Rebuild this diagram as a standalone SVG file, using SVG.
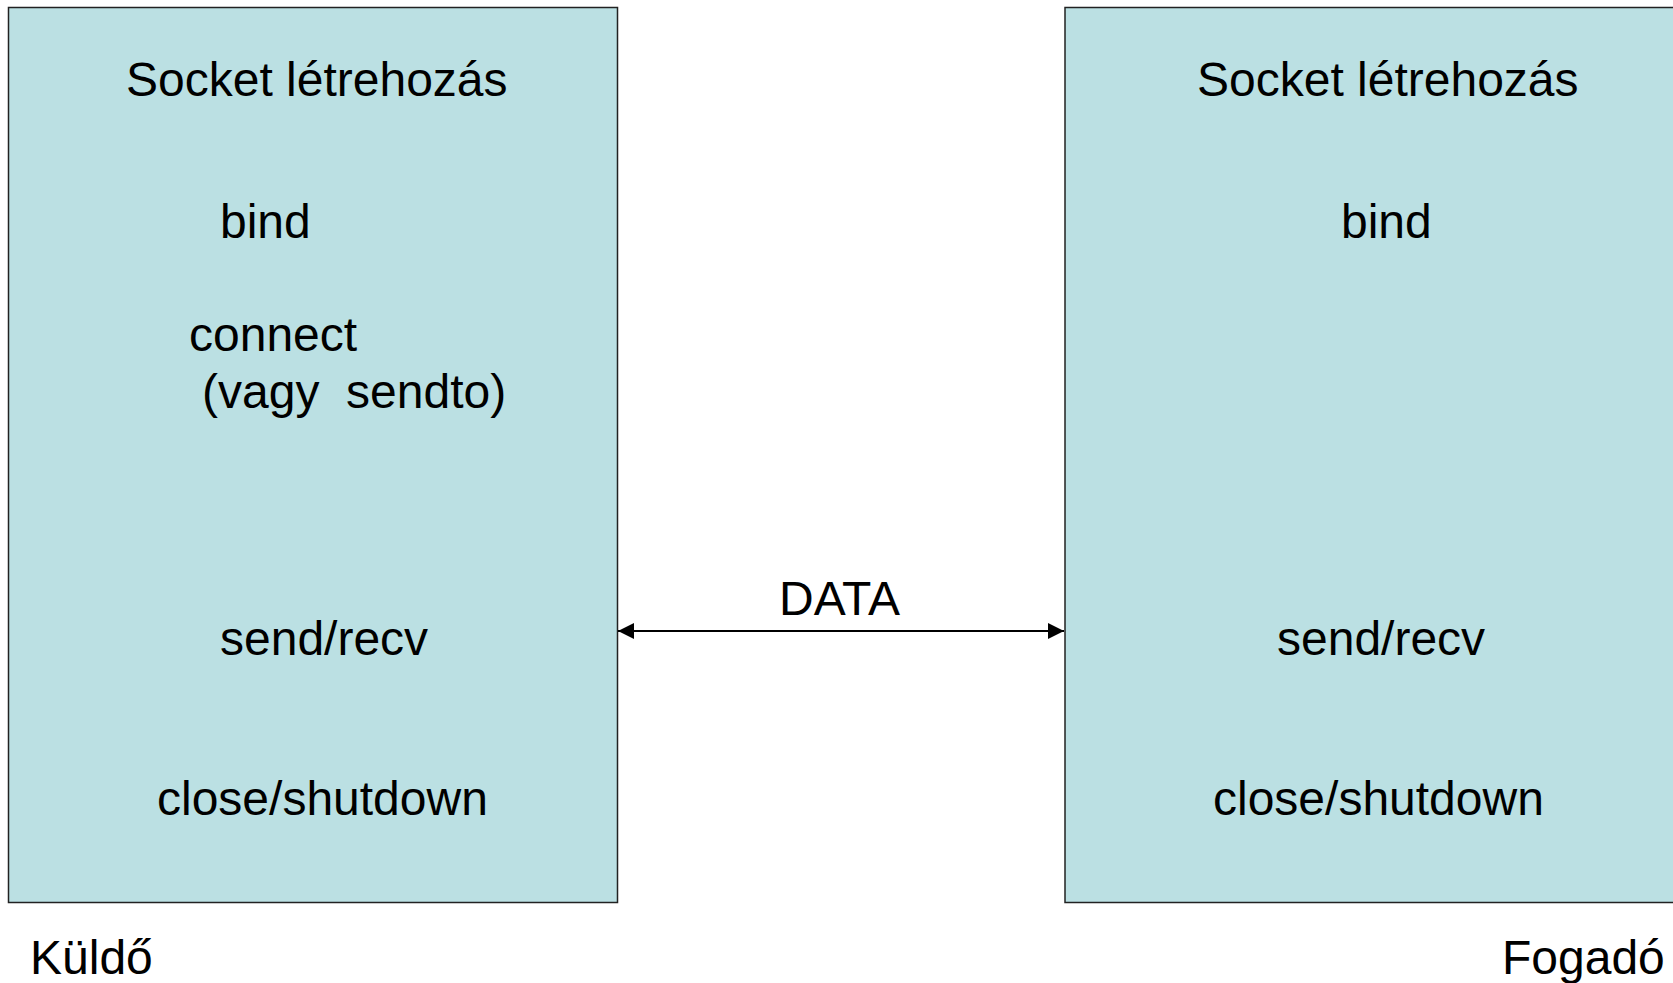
<svg xmlns="http://www.w3.org/2000/svg" width="1673" height="983" viewBox="0 0 1673 983">
  <style>
    .box { fill: #bbe0e3; stroke: #222; stroke-width: 1.5; }
    .lbl { font-family: "Liberation Sans", Arial, sans-serif; font-size: 48px; fill: #000; white-space: pre; }
    .conn { stroke: #000; stroke-width: 2; fill: none; }
  </style>
  <defs>
    <marker id="head" viewBox="0 0 16 16" refX="16" refY="8" markerWidth="16" markerHeight="16" markerUnits="userSpaceOnUse" orient="auto-start-reverse">
      <path d="M0,0 L16,8 L0,16 Z" fill="#000"/>
    </marker>
  </defs>
  <rect width="1673" height="983" fill="#fff"/>

  <!-- sender side -->
  <g id="sender">
    <rect class="box" x="8.5" y="7.5" width="609" height="895"/>
    <text class="lbl" x="126" y="96">Socket létrehozás</text>
    <text class="lbl" x="220" y="238">bind</text>
    <text class="lbl" x="189" y="351">connect</text>
    <text class="lbl" x="202" y="408">(vagy  sendto)</text>
    <text class="lbl" x="220" y="655">send/recv</text>
    <text class="lbl" x="157" y="815">close/shutdown</text>
  </g>
  <g id="sender-label">
    <text class="lbl" x="30" y="974">Küldő</text>
  </g>

  <!-- receiver side -->
  <g id="receiver">
    <rect class="box" x="1065" y="7.5" width="620" height="895"/>
    <text class="lbl" x="1197" y="96">Socket létrehozás</text>
    <text class="lbl" x="1341" y="238">bind</text>
    <text class="lbl" x="1277" y="655">send/recv</text>
    <text class="lbl" x="1213" y="815">close/shutdown</text>
  </g>
  <g id="receiver-label">
    <text class="lbl" x="1502" y="974">Fogadó</text>
  </g>

  <!-- data exchange -->
  <g id="connectors">
    <line class="conn" x1="618" y1="631" x2="1064" y2="631" marker-start="url(#head)" marker-end="url(#head)"/>
    <text class="lbl" x="779" y="615">DATA</text>
  </g>
</svg>
